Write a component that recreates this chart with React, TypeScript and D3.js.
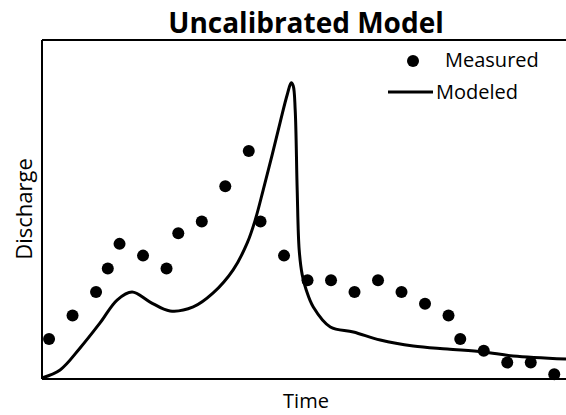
import React from "react";
import * as d3 from "d3";

const measuredTime = [0, 2, 4, 5, 6, 8, 10, 11, 13, 15, 17, 18, 20, 22, 24, 26, 28, 30, 32, 34, 35, 37, 39, 41, 43];
const measuredQ = [3.4, 5.4, 7.4, 9.4, 11.5, 10.5, 9.4, 12.4, 13.4, 16.4, 19.4, 13.4, 10.5, 8.4, 8.4, 7.4, 8.4, 7.4, 6.4, 5.4, 3.4, 2.4, 1.4, 1.4, 0.4];

const modelTime = [-0.6, 0.94, 2.64, 4.34, 5.79, 7.07, 8.6, 10.3, 12.27, 13.97, 15.67, 16.87, 17.55, 18.23, 18.99, 19.68, 20.27, 20.61, 20.78, 20.95, 21.12, 21.29, 21.55, 21.89, 22.49, 23.94, 25.9, 28.19, 31.0, 33.9, 36.97, 39.5, 44.0];
const modelQ = [0.1, 0.77, 2.64, 4.77, 6.72, 7.4, 6.55, 5.79, 6.13, 7.32, 9.28, 11.58, 13.54, 16.1, 19.08, 21.89, 24.19, 25.21, 24.96, 22.91, 16.1, 10.99, 8.86, 7.58, 6.13, 4.43, 4.0, 3.32, 2.81, 2.55, 2.3, 1.96, 1.7];

const titleText = "Uncalibrated Model";
const xLabel = "Time";
const yLabel = "Discharge";
const legendLabels = ["Measured", "Modeled"];

const W = 566;
const H = 415;
const left = 42;
const right = 566;
const top = 40;
const bottom = 379;
const font = "'Open Sans', sans-serif";

export default function App() {
  const x = d3.scaleLinear().domain([-0.6, 44.0]).range([left, right]);
  const y = d3.scaleLinear().domain([0, 28.85]).range([bottom, top]);
  const line = d3
    .line<number>()
    .x((_, i) => x(modelTime[i]))
    .y((d) => y(d))
    .curve(d3.curveCatmullRom.alpha(0.5));

  return (
    <svg width={W} height={H} style={{ position: "absolute", left: 0, top: 0, background: "#fff" }}>
      <rect x={0} y={0} width={W} height={H} fill="#fff" />
      <text x={306} y={33} textAnchor="middle" fontFamily={font} fontWeight="bold" fontSize={28} fill="#000">
        {titleText}
      </text>
      <line x1={left} y1={top} x2={right} y2={top} stroke="#000" strokeWidth={2} />
      <line x1={left} y1={top} x2={left} y2={bottom} stroke="#000" strokeWidth={2} />
      <line x1={left} y1={bottom} x2={right} y2={bottom} stroke="#000" strokeWidth={2} />
      <path d={line(modelQ) || ""} fill="none" stroke="#000" strokeWidth={3} strokeLinejoin="round" />
      {measuredQ.map((q, i) => (
        <circle key={i} cx={x(measuredTime[i])} cy={y(q)} r={6} fill="#000" />
      ))}
      <circle cx={413} cy={61} r={6} fill="#000" />
      <text x={445} y={67} fontFamily={font} fontSize={20} fill="#000">
        {legendLabels[0]}
      </text>
      <line x1={388} y1={92} x2={433} y2={92} stroke="#000" strokeWidth={3} />
      <text x={436} y={99} fontFamily={font} fontSize={20} fill="#000">
        {legendLabels[1]}
      </text>
      <text x={306} y={408} textAnchor="middle" fontFamily={font} fontSize={20} fill="#000">
        {xLabel}
      </text>
      <text
        transform="translate(32,209) rotate(-90)"
        textAnchor="middle"
        fontFamily={font}
        fontSize={22}
        fill="#000"
      >
        {yLabel}
      </text>
    </svg>
  );
}
